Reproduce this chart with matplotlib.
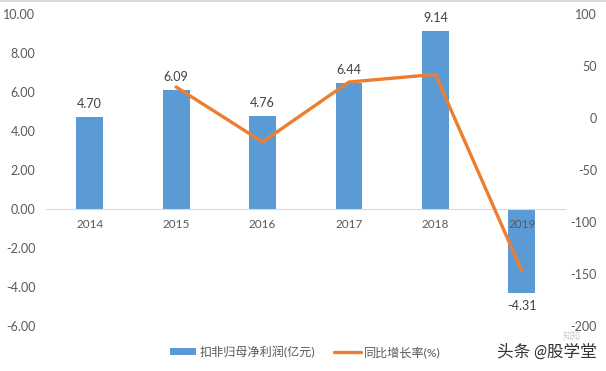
import matplotlib
matplotlib.use('Agg')
import matplotlib.pyplot as plt
import numpy as np

plt.rcParams['font.family'] = ['Lato', 'Noto Sans CJK SC', 'DejaVu Sans']

# datos
years = ['2014', '2015', '2016', '2017', '2018', '2019']
profit = [4.70, 6.09, 4.76, 6.44, 9.14, -4.31]
growth_years = ['2015', '2016', '2017', '2018', '2019']
growth = [29.8, -23, 34.6, 41.9, -147]
left_ticks = [10, 8, 6, 4, 2, 0, -2, -4, -6]
right_ticks = [100, 50, 0, -50, -100, -150, -200]

W, H = 606, 371
text_color = '#595959'
fs = 9

fig = plt.figure(figsize=(W / 100, H / 100), dpi=100)
ax = fig.add_axes([46.5 / W, 1 - 326 / H, (565 - 46.5) / W, (326 - 14) / H])
ax2 = ax.twinx()

x = np.arange(len(years))
bars = ax.bar(x, profit, width=0.31, color='#5B9BD5', zorder=2)
x2 = [years.index(y) for y in growth_years]
line, = ax2.plot(x2, growth, color='#ED7D31', lw=2.4, solid_capstyle='round', zorder=3)

ax.set_xlim(-0.5, 5.5)
ax.set_ylim(-6, 10)
ax2.set_ylim(-200, 100)

for a in (ax, ax2):
    for s in a.spines.values():
        s.set_visible(False)
ax.spines['bottom'].set_visible(True)
ax.spines['bottom'].set_position(('data', 0))
ax.spines['bottom'].set_color('#D9D9D9')
ax.spines['bottom'].set_linewidth(0.8)

# las etiquetas se ponen despues de mover el eje, si no se pierden
ax.set_yticks(left_ticks)
ax.set_yticklabels(['%.2f' % v for v in left_ticks], color=text_color, fontsize=fs)
ax2.set_yticks(right_ticks)
ax2.set_yticklabels([str(v) for v in right_ticks], color=text_color, fontsize=fs, ha='right')
ax.set_xticks(x)
ax.set_xticklabels(years, color=text_color, fontsize=fs - 0.5)
ax.tick_params(length=0)
ax2.tick_params(length=0)
ax.tick_params(axis='y', pad=8)
ax2.tick_params(axis='y', pad=23)
ax.tick_params(axis='x', pad=7)
ax.set_axisbelow(False)

# etiquetas de las barras
for xi, v in zip(x, profit):
    if v >= 0:
        ax.annotate('%.2f' % v, (xi, v), xytext=(0, 5), textcoords='offset points',
                    ha='center', va='bottom', fontsize=fs, color='#404040', zorder=5)
    else:
        ax.annotate('%.2f' % v, (xi, v), xytext=(0, -5), textcoords='offset points',
                    ha='center', va='top', fontsize=fs, color='#404040', zorder=5)

ax2.set_zorder(ax.get_zorder() + 1)
ax2.patch.set_visible(False)

fig.legend([bars, line], ['扣非归母净利润(亿元)', '同比增长率(%)'], loc='center',
           bbox_to_anchor=(305 / W, 1 - 352 / H), ncol=2, frameon=False, fontsize=8.7,
           labelcolor=text_color, handlelength=2.2, handleheight=0.5, columnspacing=1.6, handletextpad=0.25)

# borde superior y marca de agua
fig.add_artist(plt.Line2D([0, 1], [1 - 0.5 / H, 1 - 0.5 / H], color='#D9D9D9', lw=1.5))
fig.text(547 / W, 1 - 352 / H, '头条 @股学堂', fontsize=12, color='#333333', ha='center', va='center', style='italic')
fig.text(572 / W, 1 - 337 / H, '知知', fontsize=6.5, color='#CCCCCC', ha='center', va='center')

fig.savefig('out.png', dpi=100)
